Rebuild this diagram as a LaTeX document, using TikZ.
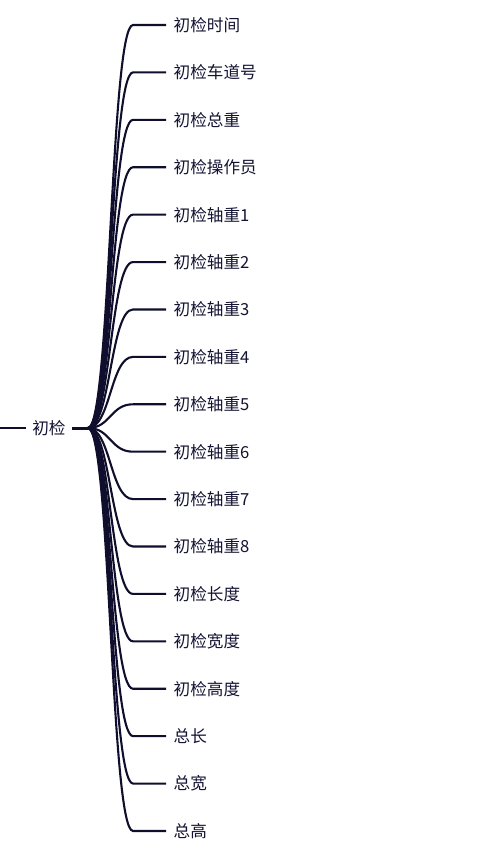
\documentclass[tikz,border=0pt]{standalone}
\usepackage{fontspec}
\newfontfamily\cjk{Noto Sans CJK SC}
\usepackage{tikz}
\usetikzlibrary{positioning}
\definecolor{mapline}{HTML}{0F0F2D}
\definecolor{maptext}{HTML}{121232}

\begin{document}
\begin{tikzpicture}[x=1pt,y=-1pt,
    leaf/.style={anchor=west,inner xsep=7.5pt,inner ysep=0pt,text=maptext,
      font=\cjk\fontsize{16.6}{19}\selectfont},
    link/.style={line width=2.1pt,draw=mapline}]
    \useasboundingbox (0,0) rectangle (503,855);

    % Root on the left
    \node[inner xsep=6.5pt,inner ysep=0pt,text=maptext,font=\cjk\fontsize{16.6}{19}\selectfont] (root) at (49,428) {初检};
    \coordinate (lin) at (0,428);
    \coordinate (hub) at (88,428);
    \draw[link] (lin) -- (root.west);
    \draw[line width=3pt,draw=mapline] (root.east) -- (hub);

    % Leaves on the right
    \foreach \name [count=\i from 0] in {初检时间,初检车道号,初检总重,初检操作员,
        初检轴重1,初检轴重2,初检轴重3,初检轴重4,初检轴重5,初检轴重6,初检轴重7,
        初检轴重8,初检长度,初检宽度,初检高度,总长,总宽,总高}{
        \node[leaf] (c\i) at (166,25+47.41*\i) {\name};
        \coordinate (k\i) at (133,25+47.41*\i);
        \draw[link] (hub) .. controls +(22.5,0) and +(-22.5,0) .. (k\i) -- (c\i.west);
    }

\end{tikzpicture}
\end{document}
